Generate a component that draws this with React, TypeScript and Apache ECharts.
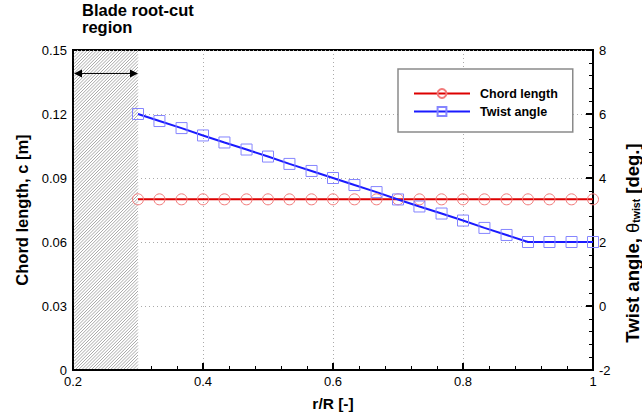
import React, { useEffect, useRef } from "react";
import * as echarts from "echarts";

// r/R positions of the data points
const radialPositions = [
  0.3, 0.333, 0.367, 0.4, 0.433, 0.467, 0.5, 0.533, 0.567, 0.6, 0.633,
  0.667, 0.7, 0.733, 0.767, 0.8, 0.833, 0.867, 0.9, 0.933, 0.967, 1.0,
];
// chord length c [m]
const chordLength = [
  0.08, 0.08, 0.08, 0.08, 0.08, 0.08, 0.08, 0.08, 0.08, 0.08, 0.08,
  0.08, 0.08, 0.08, 0.08, 0.08, 0.08, 0.08, 0.08, 0.08, 0.08, 0.08,
];
// twist angle [deg.]
const twistAngle = [
  6.0, 5.78, 5.56, 5.33, 5.11, 4.89, 4.67, 4.44, 4.22, 4.0, 3.78,
  3.56, 3.33, 3.11, 2.89, 2.67, 2.44, 2.22, 2.0, 2.0, 2.0, 2.0,
];
// root-cut region: [r start, r end, c bottom, c top, arrow level]
const rootCutRegion = [0.2, 0.3, 0, 0.15, 0.139];

const xTicks = { min: 0.2, max: 1, interval: 0.2 };
const leftTicks = { min: 0, max: 0.15, interval: 0.03 };
const rightTicks = { min: -2, max: 8, interval: 2 };

const FONT = "'Liberation Sans', Arial, sans-serif";

export default function App() {
  const ref = useRef<HTMLDivElement>(null);

  useEffect(() => {
    if (!ref.current) return;
    const chart = echarts.init(ref.current, null, { renderer: "svg" });

    const hatchRender = (params: any, api: any) => {
      const x0v = api.value(0);
      const x1v = api.value(1);
      const y0v = api.value(2);
      const y1v = api.value(3);
      const ay = api.value(4);
      const tl = api.coord([x0v, y1v]);
      const br = api.coord([x1v, y0v]);
      const left = tl[0] + 1;
      const top = tl[1] + 1;
      const right = br[0];
      const bottom = br[1] - 1;
      const children: any[] = [
        {
          type: "rect",
          shape: { x: left, y: top, width: right - left, height: bottom - top },
          style: { fill: "#fff" },
        },
      ];
      const step = 3.2;
      for (let c = left + top; c <= right + bottom; c += step) {
        const xa = Math.max(left, c - bottom);
        const xb = Math.min(right, c - top);
        if (xb > xa) {
          children.push({
            type: "line",
            shape: { x1: xa, y1: c - xa, x2: xb, y2: c - xb },
            style: { stroke: "#7a7a7a", lineWidth: 0.65 },
          });
        }
      }
      const a0 = api.coord([x0v, ay]);
      const a1 = api.coord([x1v, ay]);
      const ah = 8;
      const aw = 4;
      children.push({
        type: "line",
        shape: { x1: a0[0] + 2, y1: a0[1], x2: a1[0] - 2, y2: a1[1] },
        style: { stroke: "#000", lineWidth: 1 },
      });
      children.push({
        type: "polygon",
        shape: {
          points: [
            [a0[0] + 1, a0[1]],
            [a0[0] + 1 + ah, a0[1] - aw],
            [a0[0] + 1 + ah, a0[1] + aw],
          ],
        },
        style: { fill: "#000" },
      });
      children.push({
        type: "polygon",
        shape: {
          points: [
            [a1[0], a1[1]],
            [a1[0] - ah, a1[1] - aw],
            [a1[0] - ah, a1[1] + aw],
          ],
        },
        style: { fill: "#000" },
      });
      return { type: "group", children };
    };

    const boldTitle = {
      fontFamily: FONT,
      fontWeight: "bold",
      fontSize: 16.5,
      fill: "#000",
    };

    chart.setOption({
      animation: false,
      backgroundColor: "#fff",
      grid: {
        left: 73,
        right: 49,
        top: 50,
        bottom: 48,
        show: true,
        borderColor: "#000",
        borderWidth: 2,
        backgroundColor: "transparent",
      },
      legend: {
        left: 398,
        top: 69,
        orient: "vertical",
        itemWidth: 56,
        itemHeight: 11,
        itemGap: 5,
        padding: [18, 15, 14, 15],
        backgroundColor: "#fff",
        borderColor: "#8a8a8a",
        borderWidth: 1.5,
        borderRadius: 0,
        textStyle: {
          fontFamily: FONT,
          fontWeight: "bold",
          fontSize: 12.5,
          color: "#000",
          padding: [0, 0, 0, 5],
        },
        data: ["Chord length", "Twist angle"],
      },
      xAxis: {
        type: "value",
        min: xTicks.min,
        max: xTicks.max,
        interval: xTicks.interval,
        axisLine: { show: true, onZero: false, lineStyle: { color: "#000", width: 2 } },
        axisTick: { show: true, inside: true, length: 7, lineStyle: { color: "#000", width: 2 } },
        minorTick: { show: true, splitNumber: 5, length: 4, lineStyle: { color: "#000", width: 1 } },
        splitLine: { show: true, lineStyle: { color: "#aaa", type: [1, 3], width: 1 } },
        axisLabel: { fontFamily: FONT, fontSize: 13, color: "#000", margin: 5 },
      },
      yAxis: [
        {
          type: "value",
          min: leftTicks.min,
          max: leftTicks.max,
          interval: leftTicks.interval,
          axisLine: { show: true, onZero: false, lineStyle: { color: "#000", width: 2 } },
          axisTick: { show: false },
          splitLine: { show: true, lineStyle: { color: "#aaa", type: [1, 3], width: 1 } },
          axisLabel: { fontFamily: FONT, fontSize: 13, color: "#000", margin: 6 },
        },
        {
          type: "value",
          position: "right",
          min: rightTicks.min,
          max: rightTicks.max,
          interval: rightTicks.interval,
          axisLine: { show: true, onZero: false, lineStyle: { color: "#000", width: 2 } },
          axisTick: { show: true, inside: true, length: 7, lineStyle: { color: "#000", width: 2 } },
          minorTick: { show: true, splitNumber: 5, length: 4, lineStyle: { color: "#000", width: 1 } },
          splitLine: { show: false },
          axisLabel: { fontFamily: FONT, fontSize: 13, color: "#000", margin: 6 },
        },
      ],
      graphic: [
        {
          type: "text",
          left: 82,
          top: 1,
          style: { ...boldTitle, fontSize: 16.5, lineHeight: 17.5, text: "Blade root-cut\nregion" },
        },
        {
          type: "text",
          x: 333,
          y: 403,
          style: { ...boldTitle, fontSize: 15.5, text: "r/R [-]", align: "center", verticalAlign: "middle" },
        },
        {
          type: "text",
          x: 22,
          y: 210,
          rotation: Math.PI / 2,
          style: { ...boldTitle, text: "Chord length, c [m]", align: "center", verticalAlign: "middle" },
        },
        {
          type: "text",
          x: 631,
          y: 243,
          rotation: Math.PI / 2,
          style: {
            ...boldTitle,
            text: "{m|Twist angle, }{g|θ}{s|twist}{m| [deg.]}",
            align: "center",
            verticalAlign: "middle",
            rich: {
              m: { fontFamily: FONT, fontWeight: "bold", fontSize: 18.5, lineHeight: 21, verticalAlign: "bottom" },
              g: { fontFamily: FONT, fontWeight: "normal", fontSize: 18.5, lineHeight: 21, verticalAlign: "bottom" },
              s: { fontFamily: FONT, fontWeight: "bold", fontSize: 10.5, lineHeight: 12, verticalAlign: "bottom" },
            },
          },
        },
      ],
      series: [
        {
          type: "custom",
          name: "root-cut",
          renderItem: hatchRender,
          encode: { x: [0, 1], y: [2, 3] },
          data: [rootCutRegion],
          clip: false,
          silent: true,
          z: 1,
        },
        {
          type: "line",
          name: "Chord length",
          yAxisIndex: 0,
          data: radialPositions.map((r, i) => [r, chordLength[i]]),
          symbol: "circle",
          symbolSize: 11,
          showAllSymbol: true,
          lineStyle: { color: "#dd0000", width: 2 },
          itemStyle: { color: "rgba(255,255,255,0)", borderColor: "#f27a7a", borderWidth: 1 },
          z: 3,
        },
        {
          type: "line",
          name: "Twist angle",
          yAxisIndex: 1,
          data: radialPositions.map((r, i) => [r, twistAngle[i]]),
          symbol: "rect",
          symbolSize: 11,
          showAllSymbol: true,
          lineStyle: { color: "#1a1aff", width: 2 },
          itemStyle: { color: "rgba(255,255,255,0)", borderColor: "#8585ff", borderWidth: 1 },
          z: 3,
        },
      ],
    });

    return () => chart.dispose();
  }, []);

  return (
    <div
      ref={ref}
      style={{ position: "fixed", left: 0, top: 0, width: 642, height: 418 }}
    />
  );
}
